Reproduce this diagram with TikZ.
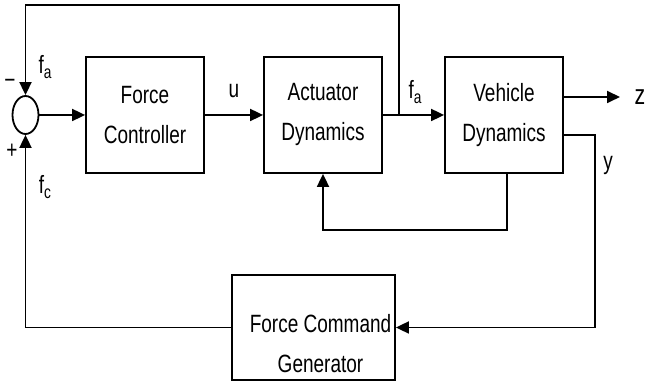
\documentclass[tikz,border=0pt]{standalone}
\usepackage{fontspec}
\setmainfont{Liberation Sans}[FakeStretch=0.76]
\usepackage{tikz}
\usetikzlibrary{shapes,arrows.meta,positioning}

\begin{document}
\begin{tikzpicture}[x=1pt, y=1pt, line width=1.8pt,
		>={Triangle[length=13pt,width=12pt]},
		font=\fontsize{25pt}{40pt}\selectfont,
		blockbox/.style={draw, rectangle, minimum width=118pt, minimum height=116pt, align=center, inner sep=0pt},
		sublbl/.style={inner sep=0pt}]
				\useasboundingbox (0,0) rectangle (646,387);
				\node[draw, ellipse, minimum width=26pt, minimum height=38pt, inner sep=0pt] (sum) at (25.5,272) {};
				\node[blockbox] (ctrl) at (145,272) {Force\\Controller};
				\node[blockbox] (act) [right of=ctrl, node distance=178pt] {Actuator\\Dynamics};
				\node[blockbox] (veh) [right of=act, node distance=181pt] {Vehicle\\Dynamics};
				\node[blockbox, minimum width=163pt, minimum height=105pt] (gen) at (313.5,59.5) {};
				\node[align=center, inner sep=0pt] (gentxt) at ([xshift=7pt,yshift=-16pt]gen.center) {Force Command\\Generator};
				\coordinate (tap) at (399,272);
				\coordinate (topc) at (399,382);
				\coordinate (zend) at (620,290);
				\coordinate (ycor) at (595,252);
				\coordinate (lowc) at (507,157);
				\draw[->] (sum) -- (ctrl);
				\draw[->] (ctrl) -- (act);
				\draw[->] (act) -- (veh);
				\draw[->] (tap) -- (topc) -| (sum.north);
				\draw[->] (veh.east |- zend) -- (zend);
				\draw[->] (veh.east |- ycor) -- (ycor) |- (gen.east);
				\draw[->] (veh.south -| lowc) -- (lowc) -| (act.south);
				\draw[->] (gen.west) -| (sum.south);
				\node (ulbl) at (234,296) {u};
				\node[sublbl] (falbl) at (415,295) {f\raisebox{-5pt}{\fontsize{18pt}{18pt}\selectfont a}};
				\node[sublbl] (fatop) at (45,320) {f\raisebox{-5pt}{\fontsize{18pt}{18pt}\selectfont a}};
				\node[sublbl] (fcbot) at (45,200) {f\raisebox{-5pt}{\fontsize{18pt}{18pt}\selectfont c}};
				\node (minus) at (10,303) {−};
				\node (plus) at (12,236) {+};
				\node (zlbl) at (640,290) {\fontsize{28pt}{28pt}\selectfont z};
				\node (ylbl) at (608,222) {y};
			\end{tikzpicture}
\end{document}
